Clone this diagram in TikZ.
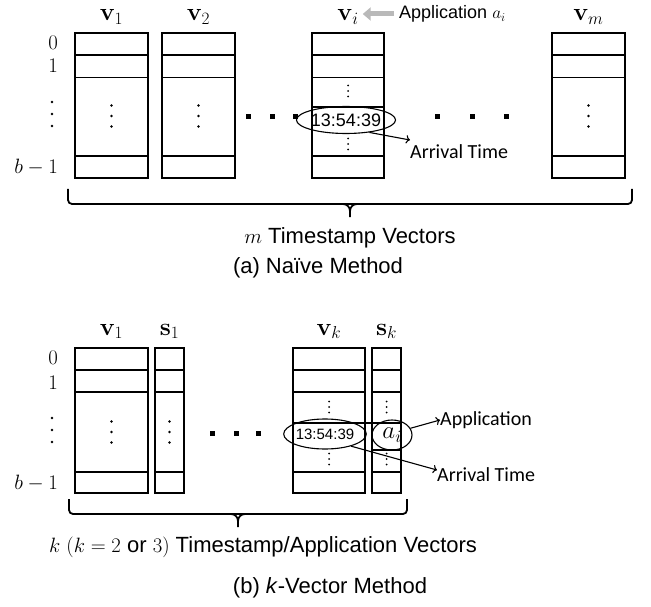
\documentclass[tikz,border=0pt]{standalone}
\usepackage[no-math]{fontspec}
\usepackage{amsmath}
\setmainfont{Liberation Sans}
\newfontfamily\calibri{Carlito}
\usetikzlibrary{shapes.geometric,
	decorations.pathreplacing,
	arrows.meta,
	calc,
	positioning}

% three round dots stacked at (x,y), spaced by gap
\newcommand{\dotstack}[4]{%
	\foreach \dd in {-1,0,1}
		\fill (#1,{#2+\dd*#3}) circle[radius=#4];
}
% row of square dots between the columns
\newcommand{\squaredots}[2]{%
	\foreach \sx in {#1}
		\fill ({\sx-2.5},{#2-2.5}) rectangle +(5,5);
}
% flat brace: left x, right x, tip x, top y
\newcommand{\flatbrace}[4]{%
	\draw[grabber] (#1,#4) -- (#1,{#4+15}) -- (#2,{#4+15}) -- (#2,#4);
	\draw[grabber, sharp corners] ({#3-7},{#4+15}) to[out=0,in=90] (#3,{#4+22}) -- (#3,{#4+28});
	\draw[grabber, sharp corners] ({#3+7},{#4+15}) to[out=180,in=90] (#3,{#4+22});
}

\begin{document}
\begin{tikzpicture}[x=1pt, y=-1pt,
	cell/.style={line width=1.6pt},
	thincell/.style={line width=0.8pt},
	vlabel/.style={font=\fontsize{25}{29}\selectfont, inner sep=0pt, anchor=base},
	rowlabel/.style={font=\fontsize{20}{24}\selectfont, inner sep=0pt, anchor=east},
	stamp/.style={draw, ellipse, line width=1.1pt, inner sep=0pt},
	note/.style={font=\calibri\fontsize{20}{24}\selectfont, inner sep=0pt, anchor=west},
	caption/.style={font=\fontsize{22}{26}\selectfont, inner sep=0pt},
	conn/.style={->, line width=1.1pt},
	grabber/.style={line width=1.8pt, rounded corners=4pt},
	apparrow/.style={line width=5pt, gray!55, -{Triangle[length=8pt, width=13pt]}}]
	\useasboundingbox (0,0) rectangle (651,607);

	%% (a) naive method
	\foreach \xa/\xb/\nm in {75/148/va1, 162/235/va2, 312/384/vai, 552/625/vam} {
		\draw[cell] (\xa,33) rectangle (\xb,178);
		\draw[cell] (\xa,55) -- (\xb,55);
		\draw[thincell] (\xa,77) -- (\xb,77);
		\draw[cell] (\xa,156) -- (\xb,156);
		\coordinate (\nm) at ({(\xa+\xb)/2},33);
	}
	\draw[cell] (312,107) -- (384,107);
	\node[vlabel] (lva1) at ($(va1)+(0,-12)$) {$\mathbf{v}_1$};
	\node[vlabel] (lva2) at ($(va2)+(0,-12)$) {$\mathbf{v}_2$};
	\node[vlabel] (lvai) at ($(vai)+(0,-12)$) {$\mathbf{v}_i$};
	\node[vlabel] (lvam) at ($(vam)+(0,-12)$) {$\mathbf{v}_m$};

	\node[rowlabel] (ra0) at (58,43) {$0$};
	\node[rowlabel] (ra1) at (58,66) {$1$};
	\node[rowlabel] (rab) at (58,167) {$b-1$};
	\dotstack{52}{114}{12}{1.3pt}
	\dotstack{111.5}{116}{10.5}{1.3pt}
	\dotstack{198.5}{116}{10.5}{1.3pt}
	\dotstack{588.5}{116}{10.5}{1.3pt}
	\dotstack{348}{91}{5.5}{1pt}
	\dotstack{348}{144}{5.5}{1pt}
	\squaredots{248,272,295,437,472,506}{117}

	\node[stamp, minimum width=81pt, minimum height=27pt,
		font=\fontsize{18}{20}\selectfont] (tsa) at (346,120) {13:54:39};
	\node[note] (arra) at (410,152) {Arrival Time};
	\draw[conn] (tsa.-28) -- ([yshift=12pt]arra.west);

	\node[font=\fontsize{18}{22}\selectfont, inner sep=0pt, anchor=west]
		(appa) at (399,14) {Application $a_i$};
	\draw[apparrow] ([xshift=-5pt]appa.west) -- ([xshift=4pt]lvai.east |- appa.west);

	\flatbrace{68}{632}{350}{189}
	\node[caption] (capa) at (350,238) {$m$ Timestamp Vectors};
	\node[caption] (tita) at (318,268) {(a) Naïve Method};

	%% (b) k-vector method
	\foreach \xa/\xb/\nm in {75/148/vb1, 155/184/sb1, 293/365/vbk, 372/401/sbk} {
		\draw[cell] (\xa,348) rectangle (\xb,493);
		\foreach \ry in {370,392,472}
			\draw[cell] (\xa,\ry) -- (\xb,\ry);
		\coordinate (\nm) at ({(\xa+\xb)/2},348);
	}
	\draw[cell] (293,423) -- (401,423);
	\draw[cell] (372,450) -- (401,450);
	\node[vlabel] (lvb1) at ($(vb1)+(0,-13)$) {$\mathbf{v}_1$};
	\node[vlabel] (lsb1) at ($(sb1)+(0,-13)$) {$\mathbf{s}_1$};
	\node[vlabel] (lvbk) at ($(vbk)+(0,-13)$) {$\mathbf{v}_k$};
	\node[vlabel] (lsbk) at ($(sbk)+(0,-13)$) {$\mathbf{s}_k$};

	\node[rowlabel] (rb0) at (58,358) {$0$};
	\node[rowlabel] (rb1) at (58,383) {$1$};
	\node[rowlabel] (rbb) at (58,483) {$b-1$};
	\dotstack{52}{430}{12}{1.3pt}
	\dotstack{111.5}{432}{10.5}{1.3pt}
	\dotstack{169.5}{432}{10.5}{1.3pt}
	\dotstack{329}{407}{5.5}{1pt}
	\dotstack{329}{459}{5.5}{1pt}
	\dotstack{386.5}{407}{5.5}{1pt}
	\dotstack{386.5}{459}{5.5}{1pt}
	\squaredots{212,236,258}{433}

	\node[stamp, minimum width=78pt, minimum height=30pt,
		font=\fontsize{15}{18}\selectfont] (tsb) at (325,434) {13:54:39};
	\node[stamp, minimum width=40pt, minimum height=30pt,
		font=\fontsize{24}{28}\selectfont] (aib) at (392,435) {$a_i$};
	\node[note] (appb) at (440,420) {Application};
	\node[note] (arrb) at (437,475) {Arrival Time};
	\draw[conn] (aib.20) -- (appb.west);
	\draw[conn] (tsb.-25) -- ([yshift=5pt]arrb.west);

	\flatbrace{69}{407}{238}{499}
	\node[caption] (capb) at (263,547) {$k$ $(k=2$ or $3)$ Timestamp/Application Vectors};
	\node[caption] (titb) at (330,588) {(b) \textit{k}-Vector Method};
\end{tikzpicture}
\end{document}
